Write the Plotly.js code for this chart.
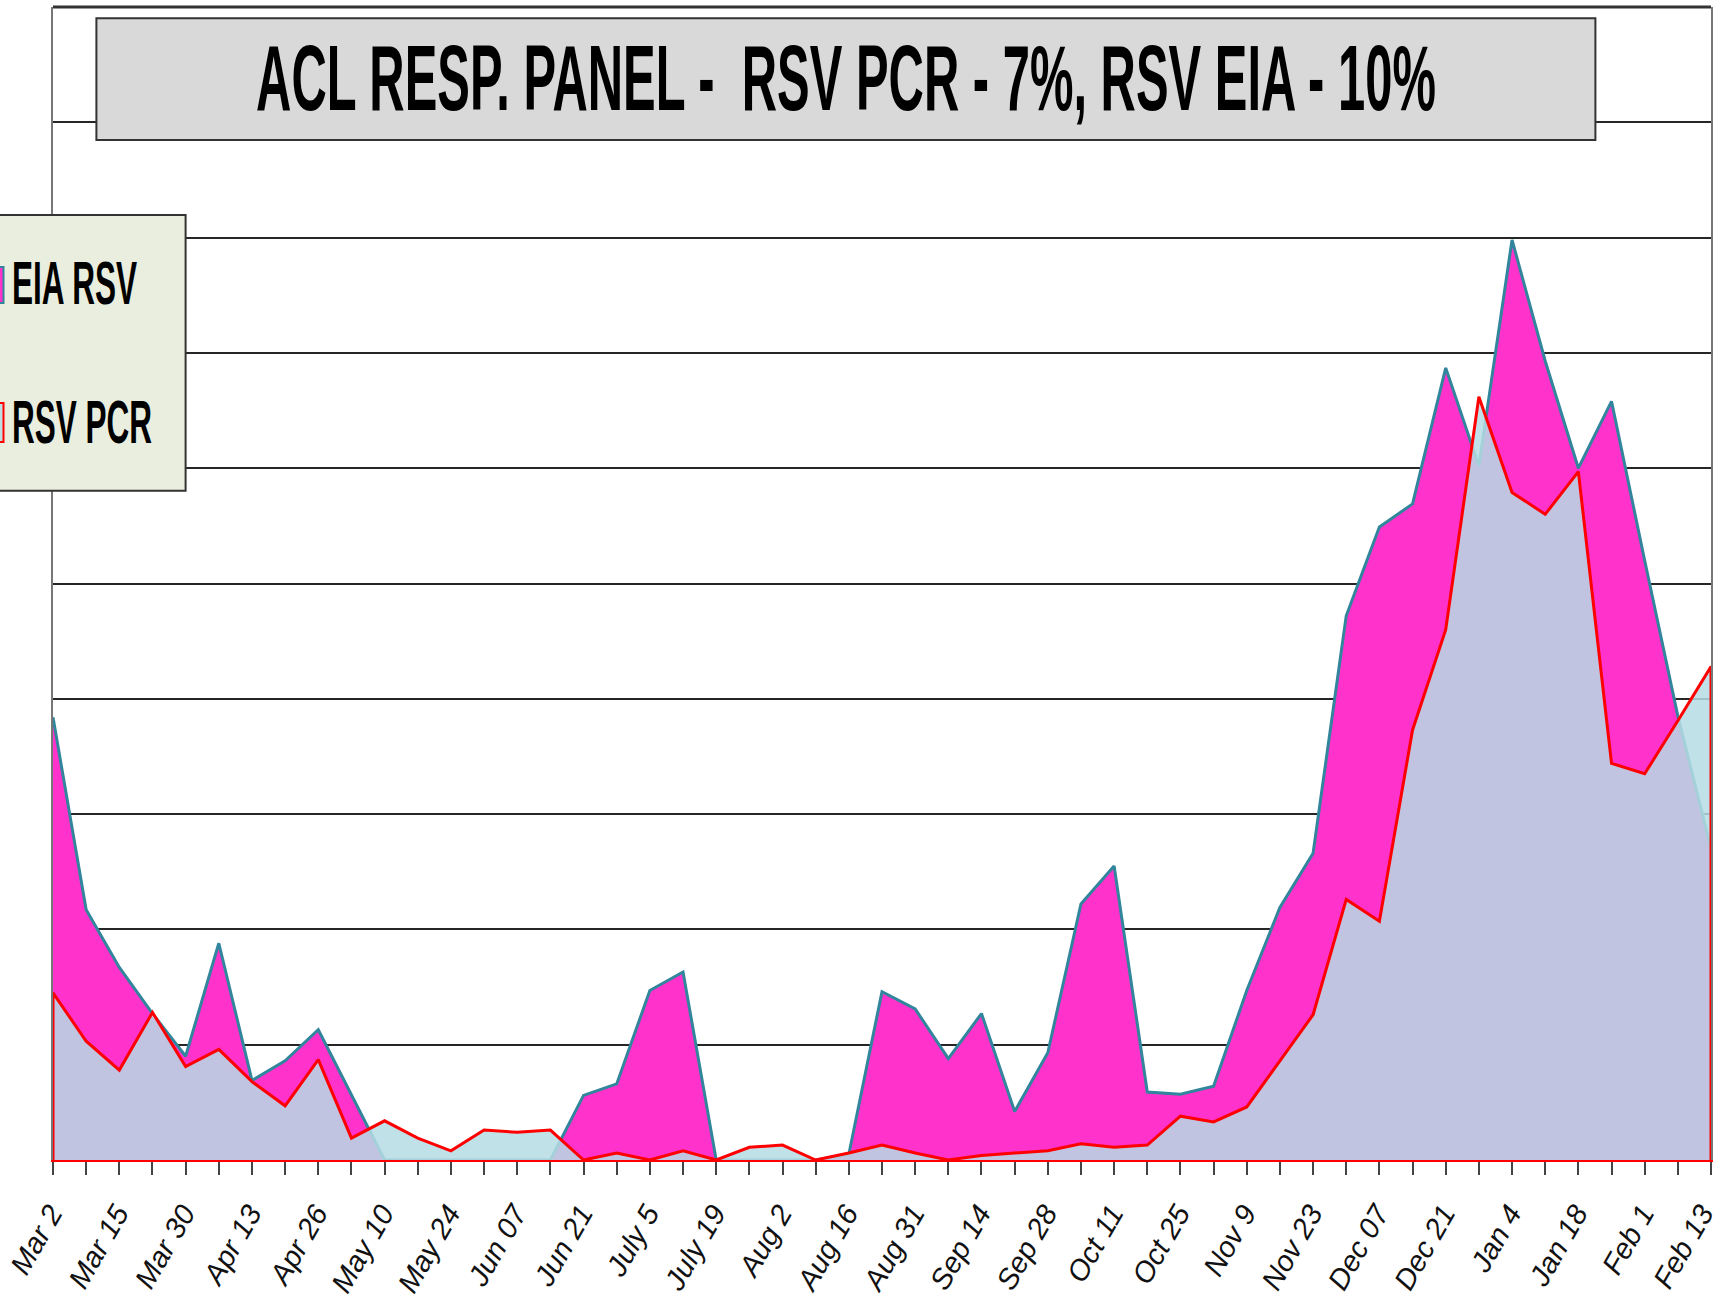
<!DOCTYPE html>
<html><head><meta charset="utf-8">
<script src="https://cdn.plot.ly/plotly-3.0.1.min.js"></script>
<style>
html,body{margin:0;padding:0;background:#fff;}
#chart{width:1724px;height:1309px;}
.xtick text{font-style:italic !important;}
</style>
</head><body><div id="chart"></div>
<script>
// Tick labels shown on every other week
const tickLabels = ['Mar 2','Mar 15','Mar 30','Apr 13','Apr 26','May 10','May 24','Jun 07','Jun 21',
  'July 5','July 19','Aug 2','Aug 16','Aug 31','Sep 14','Sep 28','Oct 11','Oct 25','Nov 9','Nov 23',
  'Dec 07','Dec 21','Jan 4','Jan 18','Feb 1','Feb 13'];

// Weekly values (51 weeks)
const eiaRsv = [3.84,2.17,1.67,1.27,0.90,1.88,0.69,0.86,1.13,0.56,
  0,0,0,0,0,0,0.56,0.66,1.47,1.63,
  0,0,0,0,0.05,1.46,1.31,0.88,1.27,0.42,
  0.93,2.22,2.55,0.59,0.57,0.64,1.47,2.19,2.66,4.72,
  5.49,5.69,6.87,6.02,7.98,6.93,6.00,6.58,5.20,3.85,2.70];
const rsvPcr = [1.45,1.03,0.78,1.28,0.81,0.96,0.68,0.47,0.87,0.19,
  0.34,0.19,0.08,0.26,0.24,0.26,0,0.06,0,0.08,
  0,0.11,0.13,0,0.06,0.13,0.06,0,0.04,0.06,
  0.08,0.14,0.11,0.13,0.38,0.33,0.46,0.86,1.26,2.26,
  2.07,3.73,4.60,6.62,5.79,5.60,5.97,3.44,3.35,3.81,4.28];

const weeks = eiaRsv.map((_, i) => i);
const tickText = weeks.map(i => (i % 2 === 0 ? tickLabels[i / 2] : ''));
const last = weeks.length - 1;

// PCR outline closes down to the baseline at both ends (area outline)
const pcrX = [weeks[0]].concat(weeks, [weeks[last]]);
const pcrY = [0].concat(rsvPcr, [0]);

const data = [
  { x: weeks, y: eiaRsv, name: 'EIA RSV', type: 'scatter', mode: 'lines',
    line: { color: '#31859C', width: 3 }, fill: 'tozeroy', fillcolor: '#FF33CC', hoverinfo: 'skip' },
  { x: pcrX, y: pcrY, name: 'RSV PCR', type: 'scatter', mode: 'lines',
    line: { color: '#FF0000', width: 3 }, fill: 'tozeroy', fillcolor: 'rgba(183,220,228,0.86)', hoverinfo: 'skip' }
];

const W = 1724, H = 1309, L = 53, R = 13, T = 7, B = 149;
const pw = W - L - R, ph = H - T - B;
const px = v => (v - L) / pw;          // page x -> paper x
const py = v => (H - B - v) / ph;      // page y -> paper y

const layout = {
  width: W, height: H,
  margin: { l: L, r: R, t: T, b: B, autoexpand: false },
  paper_bgcolor: '#FFFFFF', plot_bgcolor: '#FFFFFF',
  showlegend: false,
  title: {
    text: 'ACL RESP. PANEL -\u00a0 RSV PCR - 7%, RSV EIA - 10%',
    font: { family: 'Liberation Sans, Arial, sans-serif', size: 93, color: '#000000', weight: 'bold' },
    x: 846 / W, xanchor: 'center', y: 1 - 77.5 / H, yanchor: 'middle'
  },
  xaxis: {
    range: [0, 50], tickmode: 'array', tickvals: weeks, ticktext: tickText, tickangle: -60,
    ticks: 'outside', ticklen: 13, tickwidth: 2, tickcolor: '#444444', ticklabelstandoff: 10,
    ticklabelshift: -2, ticklabeloverflow: 'allow',
    showgrid: false, zeroline: false, showline: true, linecolor: '#FF0000', linewidth: 2,
    tickfont: { family: 'Liberation Sans, Arial, sans-serif', size: 29, color: '#111111', style: 'italic' },
    automargin: false, fixedrange: true
  },
  yaxis: {
    range: [0, 10], tick0: 0, dtick: 1, showticklabels: false, ticks: '',
    showgrid: true, gridcolor: '#262626', gridwidth: 2, zeroline: false,
    showline: true, mirror: true, linecolor: '#777777', linewidth: 2,
    automargin: false, fixedrange: true
  },
  shapes: [
    // top border of the plot area
    { type: 'line', xref: 'paper', yref: 'paper', layer: 'above',
      x0: 0, x1: 1, y0: 1, y1: 1, line: { color: '#333333', width: 3 } },
    // title box
    { type: 'rect', xref: 'paper', yref: 'paper', layer: 'above',
      x0: px(96.4), x1: px(1595.4), y0: py(140), y1: py(18.3),
      fillcolor: '#D9D9D9', line: { color: '#333333', width: 2 } },
    // legend box
    { type: 'rect', xref: 'paper', yref: 'paper', layer: 'above',
      x0: px(-10), x1: px(185.6), y0: py(490.7), y1: py(215),
      fillcolor: '#EAEEDE', line: { color: '#333333', width: 2 } },
    // legend symbols
    { type: 'rect', xref: 'paper', yref: 'paper', layer: 'above',
      x0: px(-12), x1: px(3.5), y0: py(303), y1: py(267),
      fillcolor: '#FF33CC', line: { color: '#31859C', width: 2 } },
    { type: 'rect', xref: 'paper', yref: 'paper', layer: 'above',
      x0: px(-12), x1: px(3.5), y0: py(442), y1: py(403),
      fillcolor: 'rgba(183,220,228,0.86)', line: { color: '#FF0000', width: 2 } }
  ],
  annotations: [
    { text: 'EIA RSV', xref: 'paper', yref: 'paper', x: px(10), y: py(282.5),
      xanchor: 'left', yanchor: 'middle', showarrow: false,
      font: { family: 'Liberation Sans, Arial, sans-serif', size: 62, color: '#000000', weight: 'bold' } },
    { text: 'RSV PCR', xref: 'paper', yref: 'paper', x: px(10), y: py(421.5),
      xanchor: 'left', yanchor: 'middle', showarrow: false,
      font: { family: 'Liberation Sans, Arial, sans-serif', size: 62, color: '#000000', weight: 'bold' } }
  ]
};

function compress(el, targetW, anchor) {
  if (!el) return;
  const bb = el.getBBox();
  if (!bb.width) return;
  const s = targetW / bb.width;
  const cx = anchor === 'left' ? bb.x : bb.x + bb.width / 2;
  el.setAttribute('transform', `translate(${cx},0) scale(${s},1) translate(${-cx},0)`);
}

Plotly.newPlot('chart', data, layout, { staticPlot: true, displayModeBar: false }).then(gd => {
  compress(gd.querySelector('.gtitle'), 1180, 'center');
  const anns = gd.querySelectorAll('.annotation-text');
  compress(anns[0], 125, 'left');
  compress(anns[1], 140, 'left');
  // keep the last (edge) tick label fully inside the page
  const ticks = Array.from(gd.querySelectorAll('.xtick'))
    .filter(g => (g.textContent || '').trim() === tickLabels[tickLabels.length - 1]);
  ticks.forEach(g => g.setAttribute('transform', 'translate(-7,0)'));
});
</script>
</body></html>
